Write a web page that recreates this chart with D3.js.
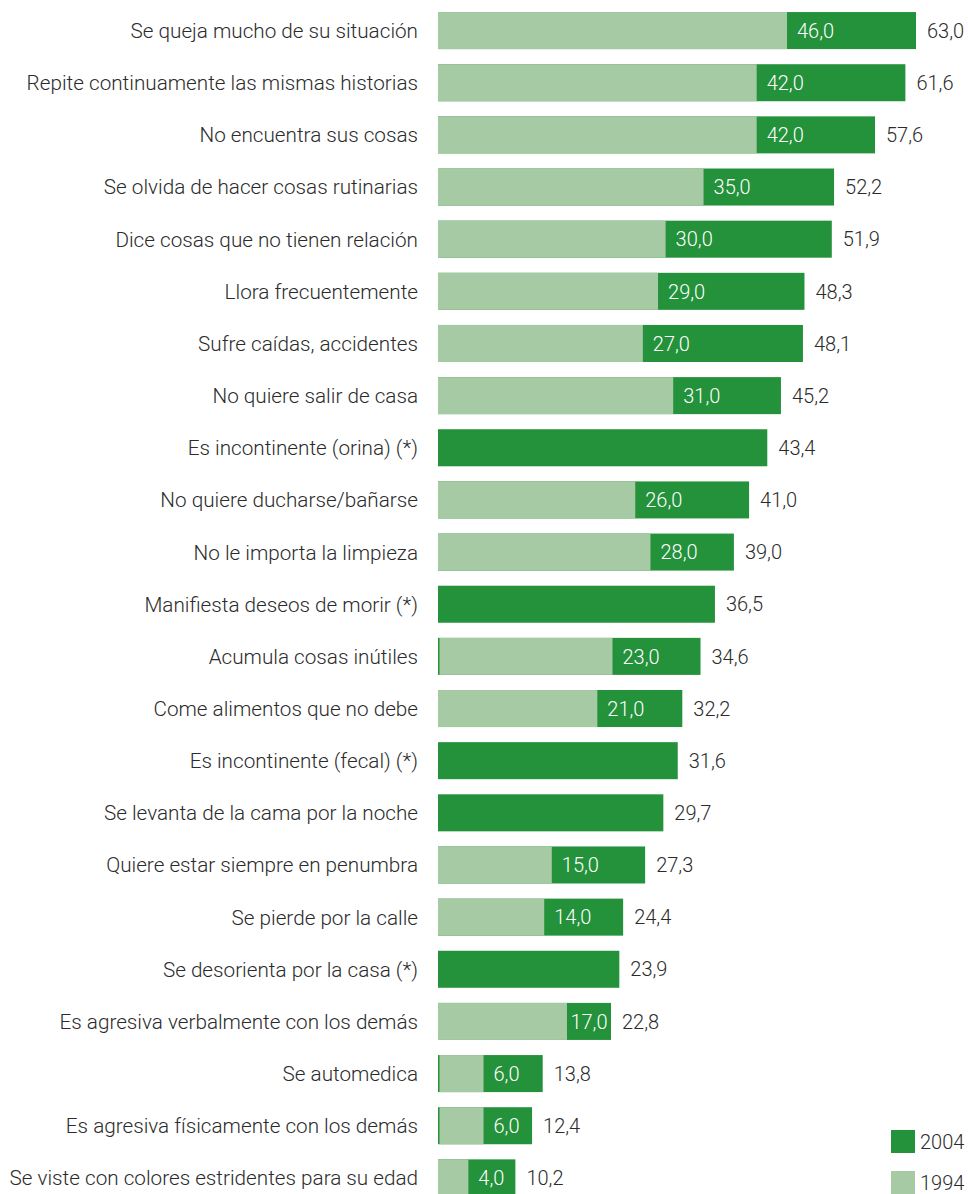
<!DOCTYPE html>
<html>
<head>
<meta charset="utf-8">
<script src="https://cdn.jsdelivr.net/npm/d3@7"></script>
<style>
  body { margin: 0; background: #fff; }
  svg text { font-family: Roboto, sans-serif; font-weight: 300; }
</style>
</head>
<body>
<div id="content"></div>
<script>
var categories = [
  "Se queja mucho de su situación",
  "Repite continuamente las mismas historias",
  "No encuentra sus cosas",
  "Se olvida de hacer cosas rutinarias",
  "Dice cosas que no tienen relación",
  "Llora frecuentemente",
  "Sufre caídas, accidentes",
  "No quiere salir de casa",
  "Es incontinente (orina) (*)",
  "No quiere ducharse/bañarse",
  "No le importa la limpieza",
  "Manifiesta deseos de morir (*)",
  "Acumula cosas inútiles",
  "Come alimentos que no debe",
  "Es incontinente (fecal) (*)",
  "Se levanta de la cama por la noche",
  "Quiere estar siempre en penumbra",
  "Se pierde por la calle",
  "Se desorienta por la casa (*)",
  "Es agresiva verbalmente con los demás",
  "Se automedica",
  "Es agresiva físicamente con los demás",
  "Se viste con colores estridentes para su edad"
];
var values2004 = [63.0, 61.6, 57.6, 52.2, 51.9, 48.3, 48.1, 45.2, 43.4, 41.0, 39.0, 36.5, 34.6, 32.2, 31.6, 29.7, 27.3, 24.4, 23.9, 22.8, 13.8, 12.4, 10.2];
var values1994 = [46.0, 42.0, 42.0, 35.0, 30.0, 29.0, 27.0, 31.0, null, 26.0, 28.0, null, 23.0, 21.0, null, null, 15.0, 14.0, null, 17.0, 6.0, 6.0, 4.0];
// rows where a thin 2004 edge shows left of the 1994 bar
var edgeRows = ["Acumula cosas inútiles", "Se automedica", "Es agresiva físicamente con los demás"];
var seriesNames = ["2004", "1994"];

var dark = "#24913b", light = "#a6caa3";
var width = 968, height = 1194;

var rows = categories.map(function(c, i){
  return {cat: c, v04: values2004[i], v94: values1994[i]};
});

var svg = d3.select("#content").append("svg")
  .attr("width", width)
  .attr("height", height);

var x = d3.scaleLinear().domain([0, 63]).range([438, 916]);
var y = d3.scaleBand().domain(categories)
  .range([4.5, 4.5 + 23 * 52.15])
  .paddingInner(0.29).paddingOuter(0.145);

var fmt = function(v){ return v.toFixed(1).replace(".", ","); };

var g = svg.selectAll("g.row").data(rows).enter()
  .append("g").attr("class", "row");

g.append("text")
  .attr("x", 418)
  .attr("y", function(d){ return y(d.cat) + y.bandwidth()/2; })
  .attr("dy", "0.36em")
  .attr("text-anchor", "end")
  .attr("font-size", 20.7)
  .attr("fill", "#2b2b2b")
  .text(function(d){ return d.cat; });

g.append("rect")
  .attr("x", x(0))
  .attr("y", function(d){ return y(d.cat); })
  .attr("width", function(d){ return x(d.v04) - x(0); })
  .attr("height", y.bandwidth())
  .attr("fill", dark);

var g94 = g.filter(function(d){ return d.v94 != null; });
g94.append("rect")
  .attr("x", function(d){ return x(0) + (edgeRows.indexOf(d.cat) >= 0 ? 1.5 : 0); })
  .attr("y", function(d){ return y(d.cat); })
  .attr("width", function(d){ return x(d.v94) - x(0) - (edgeRows.indexOf(d.cat) >= 0 ? 1.5 : 0); })
  .attr("height", y.bandwidth())
  .attr("fill", light);

// white 1994 labels sit inside the dark part, pulled left when it is narrow
g94.append("text")
  .attr("y", function(d){ return y(d.cat) + y.bandwidth()/2; })
  .attr("dy", "0.36em")
  .attr("font-size", 20)
  .attr("fill", "#fff")
  .text(function(d){ return fmt(d.v94); })
  .attr("x", function(d){
    var gap = x(d.v04) - x(d.v94);
    var w = this.getComputedTextLength();
    return x(d.v94) + Math.min(10, (gap - w) / 2);
  });

g.append("text")
  .attr("x", function(d){ return x(d.v04) + 11; })
  .attr("y", function(d){ return y(d.cat) + y.bandwidth()/2; })
  .attr("dy", "0.36em")
  .attr("font-size", 20)
  .attr("fill", "#2b2b2b")
  .text(function(d){ return fmt(d.v04); });

// legend
var legend = svg.append("g").attr("class", "legend");
seriesNames.forEach(function(name, i){
  var ly = 1130 + i * 41;
  legend.append("rect")
    .attr("x", 891).attr("y", ly)
    .attr("width", 24).attr("height", 23)
    .attr("fill", i == 0 ? dark : light);
  legend.append("text")
    .attr("x", 920).attr("y", ly + 11.5)
    .attr("dy", "0.36em")
    .attr("font-size", 20)
    .attr("fill", "#2b2b2b")
    .text(name);
});
</script>
</body>
</html>
